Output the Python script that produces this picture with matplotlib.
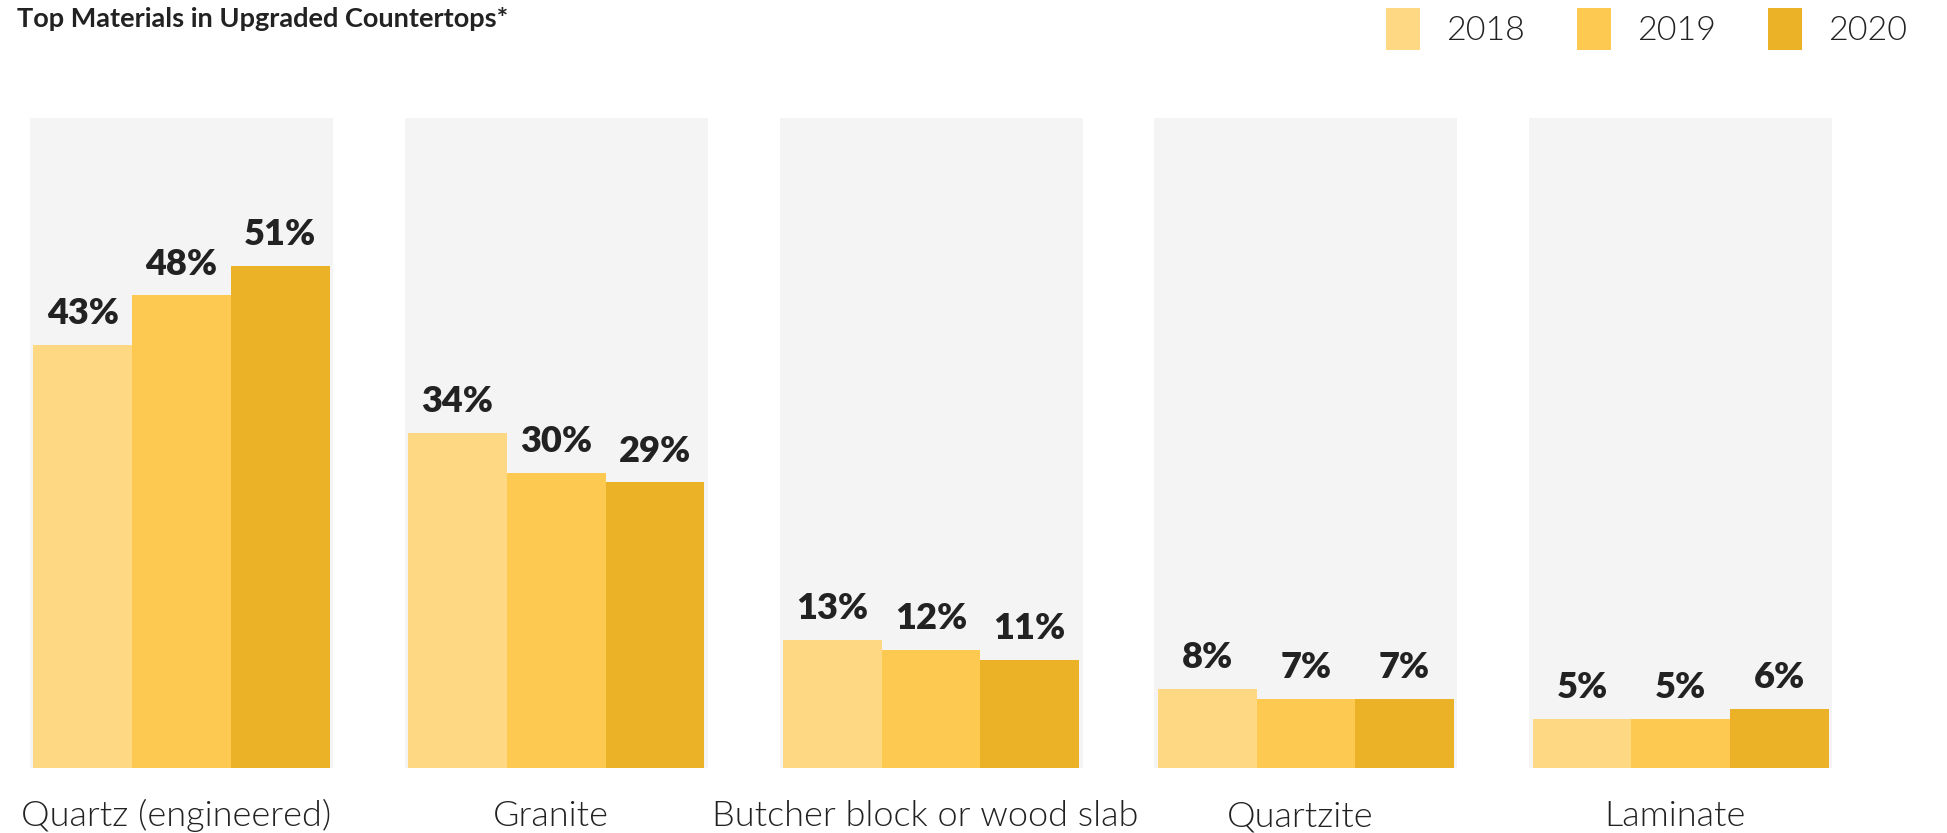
import matplotlib
matplotlib.use('Agg')
import numpy as np
import matplotlib.pyplot as plt
from matplotlib.patches import Patch

materials = ['Quartz (engineered)', 'Granite', 'Butcher block or wood slab', 'Quartzite', 'Laminate']
years = ['2018', '2019', '2020']
share_2018 = [43, 34, 13, 8, 5]
share_2019 = [48, 30, 12, 7, 5]
share_2020 = [51, 29, 11, 7, 6]
colors = ['#FED883', '#FDC950', '#EBB228']
panel_bg = '#F4F4F4'
text_color = '#222222'

plt.rcParams['font.family'] = ['Lato', 'DejaVu Sans']

fig = plt.figure(figsize=(19.47, 8.33), dpi=100)
ax = fig.add_axes([0, 65 / 833, 1, 768 / 833])

x = np.arange(len(materials))
bar_w = 0.2633
panel_w = 0.8085

# grey panels behind each group
ax.bar(x, 66.3, bottom=-0.3, width=panel_w, color=panel_bg, zorder=0)

for i, (vals, col) in enumerate(zip([share_2018, share_2019, share_2020], colors)):
    pos = x + (i - 1) * bar_w
    ax.bar(pos, vals, width=bar_w, color=col, zorder=2)
    for p, v in zip(pos, vals):
        ax.annotate(f'{v}%', (p, v), xytext=(0, 15), textcoords='offset points',
                    ha='center', va='baseline', fontsize=26, fontweight=800,
                    color=text_color)

for xi, name in zip(x, materials):
    ax.annotate(name, (xi, 0), xytext=(-4, -42), textcoords='offset points',
                ha='center', va='baseline', fontsize=26, fontweight=300,
                color=text_color, annotation_clip=False)

ax.set_xlim((0 - 181.5) / 374.8, (1947 - 181.5) / 374.8)
ax.set_ylim(0, 78)
ax.axis('off')

fig.text(17 / 1947, 1 - 27 / 833, 'Top Materials in Upgraded Countertops*',
         ha='left', va='baseline', fontsize=19.5, fontweight='bold', color=text_color)

handles = [Patch(facecolor=c, edgecolor='none') for c in colors]
leg = fig.legend(handles, years, loc='upper right', bbox_to_anchor=(1 - 40 / 1947, 1 - 8 / 833),
                 ncol=3, frameon=False, handlelength=1.0, handleheight=1.5,
                 handletextpad=0.75, columnspacing=1.55, borderaxespad=0, borderpad=0,
                 prop={'weight': 300, 'size': 24.5})
for t in leg.get_texts():
    t.set_color(text_color)

fig.savefig('out.png', dpi=100)
